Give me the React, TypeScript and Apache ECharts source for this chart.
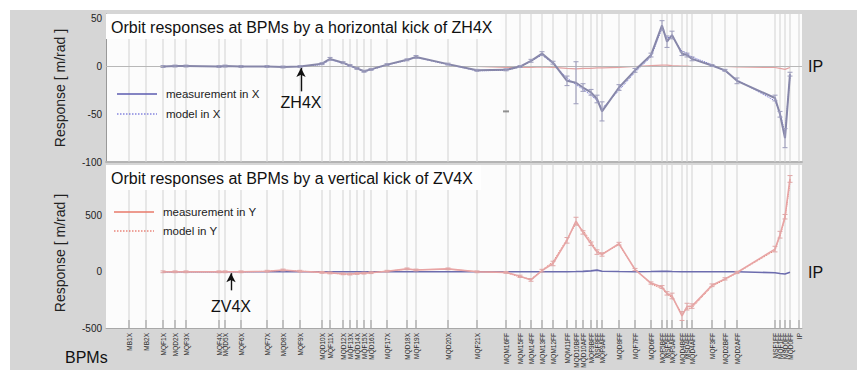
import React, { useEffect, useRef } from 'react';
import * as echarts from 'echarts';

// BPM names along the beam line and their (estimated) positions along the axis
const bpmNames = ['MB1X','MB2X','MQF1X','MQD2X','MQF3X','MQF4X','MQD5X','MQF6X','MQF7X','MQD8X','MQF9X','MQD10X','MQF11X','MQD12X','MQF13X','MQD14X','MQF15X','MQD16X','MQF17X','MQD18X','MQF19X','MQD20X','MQF21X','MQM16FF','MQM15FF','MQM14FF','MQM13FF','MQM12FF','MQM11FF','MQD10BFF','MQD10AFF','MQF9BFF','MSF8FF','MQF9AFF','MQD8FF','MQF7FF','MQD6FF','MQF5BFF','MSF5FF','MQF5AFF','MQD4BFF','MSD4FF','MQD4AFF','MQF3FF','MQD2BFF','MQD2AFF','MSF1FF','MQF1FF','MSD0FF','MQD0FF','IP'];
const bpmS = [23,40,57,69,80,113,119,135,161,177,194,216,224,237,244,251,258,265,281,301,310,342,371,400,414,425,436,447,461,470,477,485,491,496,513,529,545,556,561,566,576,581,586,606,619,631,669,674,679,684,693];

// kicker positions
const kickZH4X = 195;
const kickZV4X = 125;

// Horizontal kick ZH4X: response in X [m/rad]
const measX = [null,null,0,0.5,0.5,0,0.5,0,0,-0.5,0,3,8,4,1,-2,-5,-3,2,7,10,2.5,-4,-3.5,0,6,13.5,4,-15,-17,-22,-27,-34,-47,-22,-4,12,43,26,33,13.5,12,8,1,-4,-15,-33,-50,-75,-8,null];
const modelX = [null,null,0,0,0,0,0,0,0,0,0,2,7,3.5,0.5,-2.5,-5.5,-3.5,1.5,6.5,9.5,2,-4.5,-4,-0.5,5.5,12,3,-12,-19,-24,-30,-36,-44,-25,-6,10,40,30,31,16,14,10,2,-5,-14,-36,-48,-70,-10,null];
const errX = [0,0,1,1,1,1,1,1,1,1,1,1,1.5,1,1,1,1,1,1,1,1.5,1,1,1,1,1.5,2,1.5,5,22,4,3,4,10,3,2,2,5,6,4,2,2,2,1,1,3,3,3,10,2,0];
// Horizontal kick ZH4X: response in Y (coupling)
const coupYinX = [null,null,0,0,0,0,0,0,0,0,0,0,0,0,0,0,0,0,0,0,0,0,0,-1,-1,-1,-0.5,-1,-2,-2.5,-2,-2,-1.5,-1.5,-1,0,1,1.5,1.5,1,0.5,0.5,0,0,0,-0.5,-1,-2,-3,-1,null];
const outlierX = [[400, -47]];

// Vertical kick ZV4X: response in Y [m/rad]
const measY = [null,null,0,0,0,0,0,0,5,16,5,-5,-10,-18,-20,-15,-12,-8,5,26,16,26,0,-5,-40,-72,10,74,280,450,350,250,175,154,250,20,-100,-135,-192,-215,-393,-310,-305,-120,-63,-6,202,330,490,826,null];
const modelY = [null,null,0,0,0,0,0,0,4,14,6,-4,-12,-20,-22,-16,-10,-6,6,22,18,24,2,-8,-45,-65,15,90,290,430,370,270,185,160,240,25,-110,-150,-200,-230,-370,-330,-320,-130,-70,-10,190,320,470,800,null];
const errY = [0,0,8,8,8,8,8,8,8,8,8,8,8,8,8,8,8,8,8,8,8,8,8,8,10,12,12,20,25,35,15,15,20,15,12,10,10,12,15,25,40,30,20,12,10,10,25,30,20,30,0];
// Vertical kick ZV4X: response in X (coupling)
const coupXinY = [null,null,0,0,0,0,0,0,0,0,0,0,0,0,0,0,0,0,0,0,0,0,0,0,0,0,0,0,0,2,4,8,15,5,2,0,2,5,4,2,0,0,0,0,0,0,-8,-15,-20,-5,null];

const FONT = '"Liberation Sans", Arial, Helvetica, sans-serif';

const pairs = (vals: (number | null)[]) =>
  bpmS.map((s, i) => [s, vals[i]]).filter((p) => p[1] !== null);
const triples = (vals: (number | null)[], errs: number[]) =>
  bpmS.map((s, i) => [s, vals[i], errs[i]]).filter((p) => p[1] !== null);

const errBarRender = (color: string) => (params: any, api: any) => {
  const s = api.value(0);
  const v = api.value(1);
  const e = api.value(2);
  const lo = api.coord([s, v - e]);
  const hi = api.coord([s, v + e]);
  const x = lo[0];
  const st = { stroke: color, lineWidth: 1 };
  return {
    type: 'group',
    children: [
      { type: 'line', shape: { x1: x, y1: lo[1], x2: x, y2: hi[1] }, style: st },
      { type: 'line', shape: { x1: x - 2.5, y1: lo[1], x2: x + 2.5, y2: lo[1] }, style: st },
      { type: 'line', shape: { x1: x - 2.5, y1: hi[1], x2: x + 2.5, y2: hi[1] }, style: st },
    ],
  };
};

export default function App() {
  const ref = useRef<HTMLDivElement>(null);
  useEffect(() => {
    const chart = echarts.init(ref.current as HTMLDivElement, null, { renderer: 'svg' });
    const bpmData = bpmS.map((s, i) => [s, 0, i]);

    const xAxisCommon = {
      type: 'value',
      min: 0,
      max: 696,
      axisLabel: { show: false },
      axisTick: { show: false },
      splitLine: { show: false },
    };

    const titleStyle = { fontSize: 16, fontWeight: 'normal', color: '#111', fontFamily: FONT };

    const legendItems = (y1: number, y2: number, x0: number, c1: string, c2: string, t1: string, t2: string) => [
      { type: 'line', z: 100, shape: { x1: x0, y1, x2: x0 + 40, y2: y1 }, style: { stroke: c1, lineWidth: 1.3 } },
      { type: 'line', z: 100, shape: { x1: x0, y1: y2, x2: x0 + 40, y2 }, style: { stroke: c2, lineWidth: 1, lineDash: [1.5, 1.5] } },
      { type: 'text', z: 100, x: x0 + 49, y: y1, style: { text: t1, fontSize: 11.5, fill: '#222', fontFamily: FONT, verticalAlign: 'middle' } },
      { type: 'text', z: 100, x: x0 + 49, y: y2, style: { text: t2, fontSize: 11.5, fill: '#222', fontFamily: FONT, verticalAlign: 'middle' } },
    ];

    const option: any = {
      animation: false,
      backgroundColor: 'transparent',
      textStyle: { fontFamily: FONT },
      title: [
        { text: 'Orbit responses at BPMs by a horizontal kick of ZH4X', left: 106, top: 14, backgroundColor: '#fff', padding: [5, 8, 4, 5], textStyle: titleStyle, z: 20 },
        { text: 'Orbit responses at BPMs by a vertical kick of ZV4X', left: 106, top: 165, backgroundColor: '#fff', padding: [5, 8, 4, 5], textStyle: titleStyle, z: 20 },
      ],
      grid: [
        { left: 106, right: 55, top: 14, height: 148, show: true, backgroundColor: '#fcfcfc', borderWidth: 0 },
        { left: 106, right: 55, top: 165, height: 163, show: true, backgroundColor: '#fcfcfc', borderWidth: 0 },
      ],
      xAxis: [
        { ...xAxisCommon, gridIndex: 0, axisLine: { show: true, onZero: false, lineStyle: { color: '#b4b4b4', width: 2 } } },
        { ...xAxisCommon, gridIndex: 1, axisLine: { show: true, onZero: false, lineStyle: { color: '#a8a8a8', width: 1 } } },
      ],
      yAxis: [
        {
          type: 'value', gridIndex: 0, min: -100, max: 55, interval: 50,
          axisLabel: { fontSize: 10, color: '#222', margin: 4, showMaxLabel: false, fontFamily: FONT },
          axisLine: { show: true, lineStyle: { color: '#999' } },
          axisTick: { show: false }, splitLine: { show: false },
        },
        {
          type: 'value', gridIndex: 1, min: -500, max: 950, interval: 500,
          axisLabel: { fontSize: 10, color: '#222', margin: 4, showMaxLabel: false, fontFamily: FONT },
          axisLine: { show: false }, axisTick: { show: false }, splitLine: { show: false },
        },
      ],
      series: [
        // vertical BPM grid lines, upper panel
        {
          type: 'custom', xAxisIndex: 0, yAxisIndex: 0, silent: true, clip: false, z: 1,
          data: bpmData,
          renderItem: (params: any, api: any) => {
            const x = api.coord([api.value(0), 0])[0];
            const cs = params.coordSys;
            return { type: 'line', shape: { x1: x, y1: cs.y, x2: x, y2: cs.y + cs.height }, style: { stroke: '#d2d2d2', lineWidth: 1 } };
          },
        },
        // vertical BPM grid lines, ticks and labels, lower panel
        {
          type: 'custom', xAxisIndex: 1, yAxisIndex: 1, silent: true, clip: false, z: 1,
          data: bpmData,
          renderItem: (params: any, api: any) => {
            const x = api.coord([api.value(0), 0])[0];
            const idx = api.value(2);
            const cs = params.coordSys;
            const b = cs.y + cs.height;
            return {
              type: 'group',
              children: [
                { type: 'line', shape: { x1: x, y1: cs.y, x2: x, y2: b }, style: { stroke: '#d2d2d2', lineWidth: 1 } },
                { type: 'line', shape: { x1: x, y1: b - 8, x2: x, y2: b }, style: { stroke: '#999', lineWidth: 1 } },
                {
                  type: 'text', x: x, y: b + 5, rotation: Math.PI / 2,
                  style: { text: bpmNames[idx], fontSize: 6.5, fill: '#2a2a2a', fontFamily: FONT, align: 'right', verticalAlign: 'middle' },
                },
              ],
            };
          },
        },
        // upper panel: coupling Y (near zero) + zero line + kicker arrow
        {
          name: 'response in Y (ZH4X)', type: 'line', xAxisIndex: 0, yAxisIndex: 0, z: 3,
          data: pairs(coupYinX), symbol: 'none',
          lineStyle: { color: '#e3a2a2', width: 1.2 },
          markLine: {
            silent: true, symbol: ['none', 'none'], label: { show: false },
            lineStyle: { color: '#111', width: 1.4, type: 'solid' },
            data: [
              { yAxis: 0, lineStyle: { color: '#b8b8b8', width: 1, type: 'solid' } },
              [
                { coord: [kickZH4X, -26], symbol: 'none' },
                { coord: [kickZH4X, -1.5], symbol: 'arrow', symbolSize: [7, 9] },
              ],
            ],
          },
          markPoint: {
            silent: true, symbol: 'circle', symbolSize: 1, itemStyle: { color: 'transparent' },
            data: [{ coord: [kickZH4X, -38], label: { show: true, formatter: 'ZH4X', color: '#111', fontSize: 16, fontFamily: FONT, position: 'inside' } }],
          },
        },
        {
          name: 'model in X', type: 'line', xAxisIndex: 0, yAxisIndex: 0, z: 4,
          data: pairs(modelX), symbol: 'none',
          lineStyle: { color: '#6a6ad0', width: 1, type: 'dotted' },
        },
        {
          name: 'measurement in X', type: 'line', xAxisIndex: 0, yAxisIndex: 0, z: 5,
          data: pairs(measX), symbol: 'none',
          lineStyle: { color: '#8787a9', width: 2 },
        },
        {
          name: 'error X', type: 'custom', xAxisIndex: 0, yAxisIndex: 0, silent: true, z: 6,
          data: triples(measX, errX), renderItem: errBarRender('#9c9cbc'),
        },
        {
          name: 'outlier X', type: 'scatter', xAxisIndex: 0, yAxisIndex: 0, z: 6,
          data: outlierX, symbol: 'rect', symbolSize: [6, 2], itemStyle: { color: '#777' },
        },
        // lower panel: coupling X (near zero) + kicker arrow
        {
          name: 'response in X (ZV4X)', type: 'line', xAxisIndex: 1, yAxisIndex: 1, z: 3,
          data: pairs(coupXinY), symbol: 'none',
          lineStyle: { color: '#6c6cae', width: 1.6 },
          markLine: {
            silent: true, symbol: ['none', 'none'], label: { show: false },
            lineStyle: { color: '#111', width: 1.4, type: 'solid' },
            data: [
              [
                { coord: [kickZV4X, -165], symbol: 'none' },
                { coord: [kickZV4X, -12], symbol: 'arrow', symbolSize: [7, 9] },
              ],
            ],
          },
          markPoint: {
            silent: true, symbol: 'circle', symbolSize: 1, itemStyle: { color: 'transparent' },
            data: [{ coord: [kickZV4X, -312], label: { show: true, formatter: 'ZV4X', color: '#111', fontSize: 16, fontFamily: FONT, position: 'inside' } }],
          },
        },
        {
          name: 'model in Y', type: 'line', xAxisIndex: 1, yAxisIndex: 1, z: 4,
          data: pairs(modelY), symbol: 'none',
          lineStyle: { color: '#e07060', width: 1, type: 'dotted' },
        },
        {
          name: 'measurement in Y', type: 'line', xAxisIndex: 1, yAxisIndex: 1, z: 5,
          data: pairs(measY), symbol: 'none',
          lineStyle: { color: '#e8a4a4', width: 1.6 },
        },
        {
          name: 'error Y', type: 'custom', xAxisIndex: 1, yAxisIndex: 1, silent: true, z: 6,
          data: triples(measY, errY), renderItem: errBarRender('#e0a6a6'),
        },
      ],
      graphic: [
        { type: 'text', z: 100, x: 60, y: 88, rotation: Math.PI / 2, style: { text: 'Response [ m/rad ]', fontSize: 14, fill: '#222', fontFamily: FONT, align: 'center', verticalAlign: 'middle' } },
        { type: 'text', z: 100, x: 60, y: 253, rotation: Math.PI / 2, style: { text: 'Response [ m/rad ]', fontSize: 14, fill: '#222', fontFamily: FONT, align: 'center', verticalAlign: 'middle' } },
        { type: 'text', z: 100, x: 808, y: 66, style: { text: 'IP', fontSize: 16, fill: '#111', fontFamily: FONT, verticalAlign: 'middle' } },
        { type: 'text', z: 100, x: 808, y: 272, style: { text: 'IP', fontSize: 16, fill: '#111', fontFamily: FONT, verticalAlign: 'middle' } },
        { type: 'text', z: 100, x: 65, y: 357, style: { text: 'BPMs', fontSize: 16, fill: '#111', fontFamily: FONT, verticalAlign: 'middle' } },
        ...legendItems(94, 114, 117, '#5c5cb0', '#4a4ad0', 'measurement in X', 'model in X'),
        ...legendItems(212, 231, 114, '#e87a6a', '#e04a3a', 'measurement in Y', 'model in Y'),
      ],
    };

    chart.setOption(option);
    return () => chart.dispose();
  }, []);

  return (
    <div style={{ position: 'fixed', left: 0, top: 0, width: 857, height: 370, background: '#ffffff', overflow: 'hidden' }}>
      <div style={{ position: 'absolute', left: 10, top: 10, right: 0, bottom: 0, background: '#d6d6d6' }} />
      <div ref={ref} style={{ position: 'absolute', left: 0, top: 0, width: 857, height: 370 }} />
    </div>
  );
}
